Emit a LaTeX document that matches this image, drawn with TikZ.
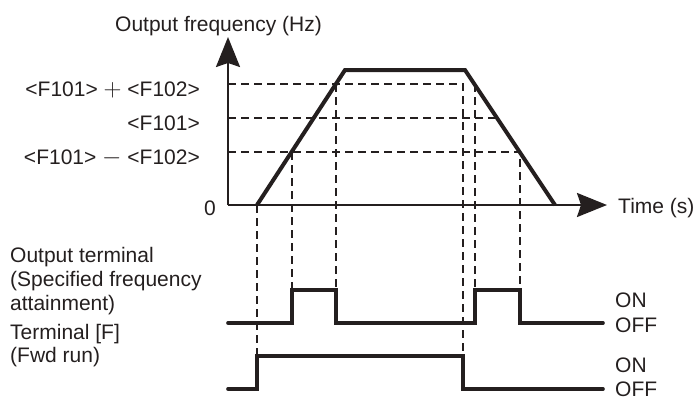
\documentclass[tikz,border=0pt]{standalone}
\usepackage{fontspec}
\setmainfont{Liberation Sans}
\usetikzlibrary{arrows.meta}
\definecolor{ink}{rgb}{0.14,0.12,0.12}
\newcommand{\bigop}[1]{{\fontsize{25}{25}\selectfont$#1$}}
\begin{document}
\begin{tikzpicture}[x=1pt,y=-1pt,
  lbl/.style={font=\fontsize{21}{24}\selectfont, inner sep=0pt, text=ink},
  axis/.style={draw=ink, line width=2.2pt, -{Stealth[length=30pt,width=24pt,inset=4pt]}},
  curve/.style={draw=ink, line width=4pt},
  guide/.style={draw=ink, line width=1.8pt, dash pattern=on 8pt off 5pt},
  signal/.style={draw=ink, line width=3.6pt, line cap=round}]
\useasboundingbox (0,0) rectangle (693,399);
% key points
\coordinate (O) at (228,205);
\coordinate (ytip) at (228,37);
\coordinate (xtip) at (607,205);
\coordinate (r0) at (257,205);
\coordinate (r1) at (345,70);
\coordinate (r2) at (465,70);
\coordinate (r3) at (555,205);
% axes
\draw[axis] (O) -- (ytip);
\draw[axis] (O) -- (xtip);
% guides
\coordinate (hA) at (228,84);  \coordinate (hAe) at (463,84);  \coordinate (hAd) at (463,356);
\coordinate (hB) at (228,118); \coordinate (hBe) at (497,118);
\coordinate (hC) at (228,152); \coordinate (hCe) at (520,152); \coordinate (hCd) at (520,290);
\draw[guide] (hA) -- (hAe) -- (hAd);
\draw[guide] (hB) -- (hBe);
\draw[guide] (hC) -- (hCe) -- (hCd);
\coordinate (v1a) at (257,205); \coordinate (v1b) at (257,356);
\coordinate (v2a) at (292,152); \coordinate (v2b) at (292,290);
\coordinate (v3a) at (336,84);  \coordinate (v3b) at (336,290);
\coordinate (v4a) at (475,84);  \coordinate (v4b) at (475,290);
\draw[guide] (v1a) -- (v1b);
\draw[guide] (v2a) -- (v2b);
\draw[guide] (v3a) -- (v3b);
\draw[guide] (v4a) -- (v4b);
% frequency curve
\draw[curve] (r0) -- (r1) -- (r2) -- (r3);
% output terminal signal
\coordinate (s0) at (228,323);
\coordinate (s9) at (603,323);
\draw[signal] (s0) -- (292,323) -- (292,290) -- (336,290) -- (336,323) -- (475,323) -- (475,290) -- (520,290) -- (520,323) -- (s9);
% fwd run signal
\coordinate (f0) at (228,389);
\coordinate (f9) at (603,389);
\draw[signal] (f0) -- (257,389) -- (257,356) -- (463,356) -- (463,389) -- (f9);
% labels
\node[lbl, anchor=base west] (ylab) at (115,31) {Output frequency (Hz)};
\node[lbl, anchor=base east] (lA) at (200,96) {<F101> \bigop{+} <F102>};
\node[lbl, anchor=base east] (lB) at (200,130) {<F101>};
\node[lbl, anchor=base east] (lC) at (200,164) {<F101> \bigop{-} <F102>};
\node[lbl, anchor=base east] (zero) at (216,215) {0};
\node[lbl, anchor=base west] (xlab) at (618,213) {Time (s)};
\node[lbl, anchor=base west] (ot1) at (10,262) {Output terminal};
\node[lbl, anchor=base west] (ot2) at (10,286) {(Specified frequency};
\node[lbl, anchor=base west] (ot3) at (10,310) {attainment)};
\node[lbl, anchor=base west] (tf1) at (10,339) {Terminal [F]};
\node[lbl, anchor=base west] (tf2) at (10,362) {(Fwd run)};
\node[lbl, anchor=base west] (on1) at (615,307) {ON};
\node[lbl, anchor=base west] (off1) at (615,332) {OFF};
\node[lbl, anchor=base west] (on2) at (615,372) {ON};
\node[lbl, anchor=base west] (off2) at (615,396) {OFF};
\end{tikzpicture}
\end{document}
